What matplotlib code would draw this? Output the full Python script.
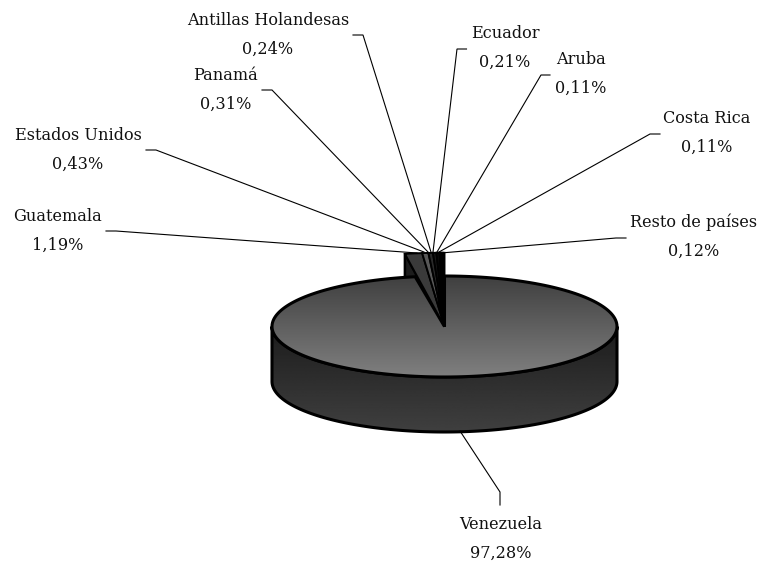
#!/usr/bin/env python3

import numpy as np
import matplotlib
matplotlib.use("Agg")
import matplotlib.pyplot as plt
from matplotlib.patches import Polygon

# data
paises = ["Venezuela", "Guatemala", "Estados Unidos", "Panamá", "Antillas Holandesas",
          "Ecuador", "Aruba", "Costa Rica", "Resto de países"]
valores = [97.28, 1.19, 0.43, 0.31, 0.24, 0.21, 0.11, 0.11, 0.12]
colores = ["#606060", "#3a3a3a", "#585858", "#2a2a2a", "#181818", "#0c0c0c", "#060606", "#030303", "#000000"]

# label centres in pixels, then leader lines
centros = [(501, 538.5), (58, 230.5), (78, 150), (226, 89.5), (268, 34.5),
           (505, 47.5), (580.5, 74), (707, 132.5), (693.5, 237)]
guias = [
    [(460, 431), (500, 492), (500, 505)],
    [(106, 231), (116, 231), (417, 253)],
    [(146, 150), (156, 150), (424, 252)],
    [(262, 90), (272, 90), (428, 252)],
    [(353, 35), (363, 35), (431, 252)],
    [(466.5, 49), (457, 49), (433, 252)],
    [(550, 75), (541, 75), (437, 252)],
    [(660, 134), (650, 134), (439, 252)],
    [(626, 238), (616, 238), (441, 253)],
]

# pie geometry
cx, cy = 444.5, 326.5
a, b = 172.5, 50.5
prof = 55
# the small slices are pulled out
rx_fuera, ry_fuera = 1.35, 1.46
prof_fuera = 24


def punto(ang, rx=1.0, ry=1.0):
    t = np.radians(ang)
    return cx + rx * a * np.sin(t), cy - ry * b * np.cos(t)


def arco(a0, a1, rx=1.0, ry=1.0, n=200):
    angs = np.linspace(a0, a1, n)
    return [punto(x, rx, ry) for x in angs]


plt.rcParams["font.family"] = "DejaVu Serif"

fig = plt.figure(figsize=(7.59, 5.62), dpi=100)
ax = fig.add_axes([0, 0, 1, 1])
ax.set_xlim(0, 759)
ax.set_ylim(562, 0)
ax.axis("off")

angulos = np.cumsum([0] + valores) * 3.6
fin_grande = angulos[1]

# wall of the pulled-out slices, behind everything
p_izq = punto(fin_grande, rx_fuera, ry_fuera)
pared = [p_izq, (p_izq[0], p_izq[1] + prof_fuera), (cx, cy + prof_fuera), (cx, cy)]
ax.add_patch(Polygon(pared, closed=True, fc="#1c1c1c", ec="black", lw=1.8, zorder=1))

# side of the big slice
lado = arco(90, 270) + [(x, y + prof) for x, y in arco(270, 90)]
poly_lado = Polygon(lado, closed=True, fc="none", ec="black", lw=2.2, zorder=3)
ax.add_patch(poly_lado)
grad = np.linspace(0, 1, 256).reshape(-1, 1)
im = ax.imshow(grad, cmap="gray", vmin=-0.786, vmax=6.36, extent=(272, 617, 432, 326),
               aspect="auto", zorder=2)
im.set_clip_path(poly_lado)

# top of the big slice
tapa = [(cx, cy)] + arco(0, fin_grande)
poly_tapa = Polygon(tapa, closed=True, fc="none", ec="black", lw=2.2, zorder=5)
ax.add_patch(poly_tapa)
im2 = ax.imshow(grad, cmap="gray", vmin=-1.0, vmax=3.0, extent=(272, 617, 377, 276),
                aspect="auto", zorder=4)
im2.set_clip_path(poly_tapa)

# small slices
for i in range(1, len(valores)):
    trozo = [(cx, cy)] + arco(angulos[i], angulos[i + 1], rx_fuera, ry_fuera, n=12)
    ax.add_patch(Polygon(trozo, closed=True, fc=colores[i], ec="black", lw=1.4, zorder=6))

# leader lines
for g in guias:
    xs, ys = zip(*g)
    ax.plot(xs, ys, color="black", lw=0.8, zorder=7, solid_joinstyle="miter")

# labels
for pais, val, (x, y) in zip(paises, valores, centros):
    txt = f"{pais}\n{val:.2f}%".replace(".", ",")
    ax.text(x, y, txt, ha="center", va="center", fontsize=11.6, color="#111111",
            linespacing=1.92, zorder=8)

fig.savefig("out.png", dpi=100)
